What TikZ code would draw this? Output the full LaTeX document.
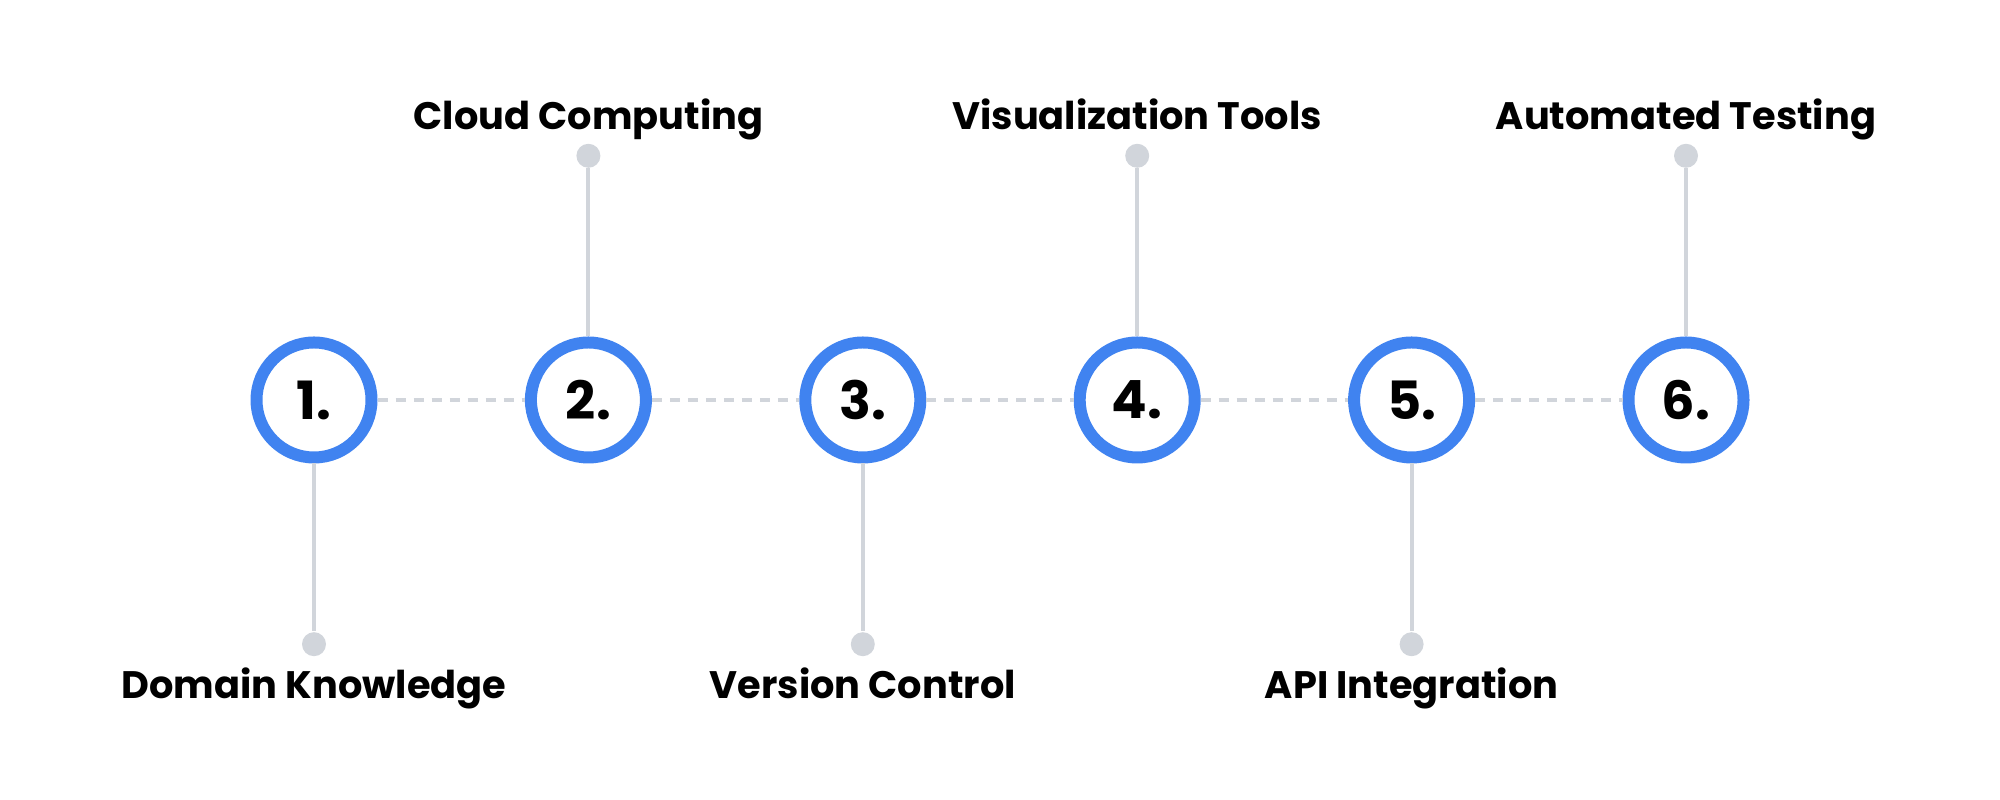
\documentclass[tikz,border=0pt]{standalone}
\usepackage{fontspec}
\setmainfont{Poppins}
\usetikzlibrary{positioning}

\definecolor{stepblue}{HTML}{4083F0}
\definecolor{pingray}{HTML}{D1D5DB}

\begin{document}
\begin{tikzpicture}[
    stage/.style={circle, draw=stepblue, line width=0.12cm, fill=white, minimum size=1.15cm, inner sep=0pt, font=\bfseries\fontsize{15}{15}\selectfont},
    pin/.style={circle, fill=pingray, inner sep=0pt, minimum size=0.24cm},
    stem/.style={draw=pingray, line width=0.04cm},
    link/.style={draw=pingray, line width=0.04cm, dash pattern=on 0.1cm off 0.08cm},
    topic/.style={font=\bfseries\fontsize{10.9}{13}\selectfont, inner sep=0pt}
  ]
    \useasboundingbox (0,0) rectangle (20,8);

    % the six stages on the middle line
    \foreach \i/\x in {1/3.14, 2/5.884, 3/8.628, 4/11.372, 5/14.116, 6/16.86}
      {\node[stage] (s\i) at (\x,4) {\i.};}

    % dashed links between stages
    \foreach \i [evaluate=\i as \j using int(\i+1)] in {1,...,5}
      {\path[link] (s\i) -- (s\j);}

    % topics above the even stages
    \foreach \i/\txt in {2/Cloud Computing, 4/Visualization Tools, 6/Automated Testing}
      {\node[pin, above=1.68cm of s\i] (p\i) {};
       \path[stem] (s\i) -- (p\i);
       \node[topic, above=0.14cm of p\i, anchor=base] (t\i) {\txt};}

    % topics below the odd stages
    \foreach \i/\txt in {1/Domain Knowledge, 3/Version Control, 5/API Integration}
      {\node[pin, below=1.68cm of s\i] (p\i) {};
       \path[stem] (s\i) -- (p\i);
       \node[topic, below=0.42cm of p\i, anchor=base] (t\i) {\txt};}
\end{tikzpicture}
\end{document}
